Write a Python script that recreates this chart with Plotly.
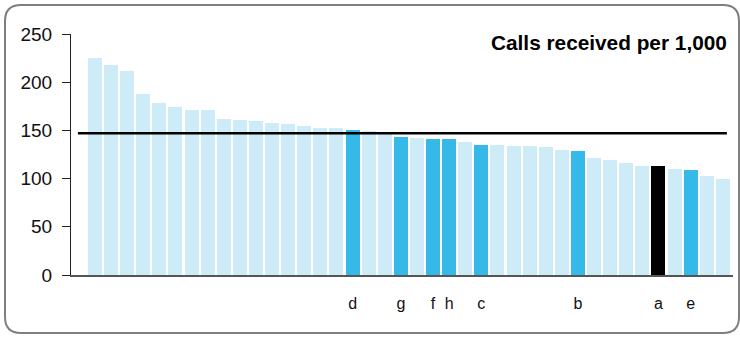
import plotly.graph_objects as go

values = [225, 217.5, 211.5, 187.5, 178.5, 174, 171, 171, 162, 161, 160, 158, 157, 155,
          152.5, 152.5, 150.5, 149.5, 146, 143, 142, 141, 141, 138, 135, 135, 134, 134,
          133, 130, 129, 121.5, 119.5, 116.5, 113.5, 113.5, 110, 109, 103, 100]
highlight = {16: "d", 19: "g", 21: "f", 22: "h", 24: "c", 30: "b", 35: "a", 37: "e"}
self_label = "a"
average = 147
title_text = "Calls received per 1,000"
y_ticks = [0, 50, 100, 150, 200, 250]

LIGHT = "#CDECF8"
DARK = "#35B9E9"
BLACK = "#000000"

xs = list(range(len(values)))
colors = []
for i in xs:
    lab = highlight.get(i)
    if lab is None:
        colors.append(LIGHT)
    elif lab == self_label:
        colors.append(BLACK)
    else:
        colors.append(DARK)

W, H = 740, 337
L, R, T, B = 71, 7, 34, 62
pw, ph = W - L - R, H - T - B

fig = go.Figure()
fig.add_trace(go.Bar(x=xs, y=values, marker=dict(color=colors, line=dict(width=0)),
                     width=0.87, showlegend=False, hoverinfo="skip"))

fig.add_shape(type="line", xref="x", yref="y", x0=-1.06, x1=39.25, y0=average, y1=average,
              line=dict(color="#000000", width=2.5))

# rounded border in pixel space -> paper
def px(x):
    return (x - L) / pw
def py(y):
    return (H - B - y) / ph

x0, x1, y0, y1, r = 5, 739, 5, 333, 16
path = (f"M {px(x0+r)},{py(y0)} L {px(x1-r)},{py(y0)} Q {px(x1)},{py(y0)} {px(x1)},{py(y0+r)} "
        f"L {px(x1)},{py(y1-r)} Q {px(x1)},{py(y1)} {px(x1-r)},{py(y1)} "
        f"L {px(x0+r)},{py(y1)} Q {px(x0)},{py(y1)} {px(x0)},{py(y1-r)} "
        f"L {px(x0)},{py(y0+r)} Q {px(x0)},{py(y0)} {px(x0+r)},{py(y0)} Z")
fig.add_shape(type="path", xref="paper", yref="paper", path=path,
              line=dict(color="#7f7f7f", width=2))

fig.add_annotation(text="<b>" + title_text + "</b>", xref="paper", yref="paper",
                   x=px(729), y=py(43), xanchor="right", yanchor="middle", showarrow=False,
                   font=dict(family="Liberation Sans, Arial", size=20.8, color="#000000"))

fig.update_layout(
    width=W, height=H,
    margin=dict(l=L, r=R, t=T, b=B, pad=0),
    paper_bgcolor="white", plot_bgcolor="white",
    bargap=0,
    font=dict(family="Liberation Sans, Arial", color="#111111"),
    xaxis=dict(range=[-1.49, 39.63], showgrid=False, zeroline=False,
               showline=True, linecolor="#555555", linewidth=2,
               tickmode="array", tickvals=list(highlight.keys()),
               ticktext=list(highlight.values()), ticks="",
               ticklabelstandoff=13, tickfont=dict(size=16, color="#111111")),
    yaxis=dict(range=[0, 250], tickvals=y_ticks, showgrid=False, zeroline=False,
               showline=True, linecolor="#222222", linewidth=1,
               ticks="outside", ticklen=8, tickcolor="#222222",
               ticklabelstandoff=6, tickfont=dict(size=19, color="#111111")),
)

fig.write_html("out.html", config={"displayModeBar": False},
               post_script="document.body.style.margin='0';document.body.style.overflow='hidden';")
